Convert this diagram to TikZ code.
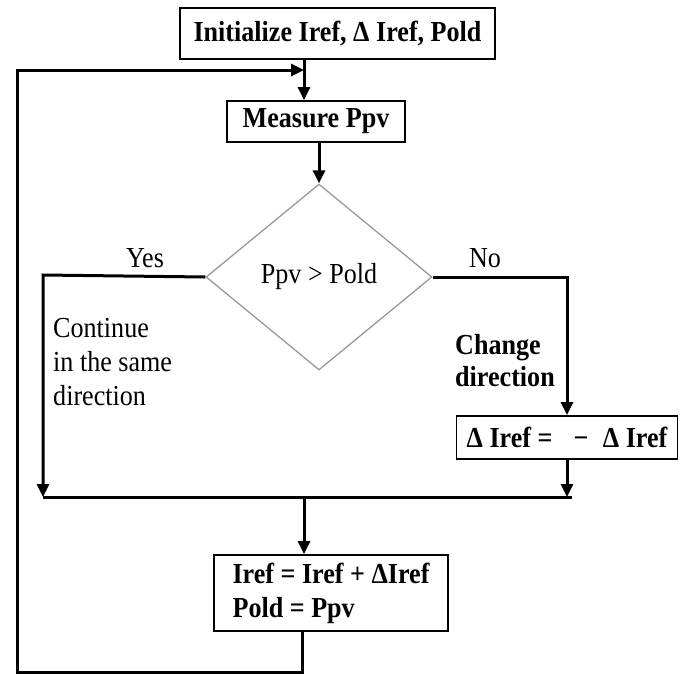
\documentclass[tikz,border=0pt]{standalone}
\usepackage{fontspec}
\setmainfont{Liberation Serif}[FakeStretch=0.9]
\usetikzlibrary{shapes.geometric,arrows.meta,calc}

\begin{document}
\begin{tikzpicture}[x=1pt, y=-1pt,
    every node/.style={font=\fontsize{29}{34}\selectfont, inner sep=0pt},
    procbox/.style={draw, line width=1.8pt, font=\fontsize{29}{34}\selectfont\bfseries},
    decision/.style={draw=gray!80, line width=1.3pt, diamond, minimum width=226pt, minimum height=186pt},
    flow/.style={line width=3pt},
    flowarrow/.style={flow, -{Triangle[length=13pt,width=12pt]}}]
    \useasboundingbox (0,0) rectangle (683,673);

    % boxes and decision
    \node[procbox, minimum width=315pt, minimum height=51pt] (init) at (337.5,33.5)
        {Initialize Iref, Δ Iref, Pold};
    \node[procbox, minimum width=178pt, minimum height=41pt] (measure) at (316,121.5)
        {Measure Ppv};
    \node[decision] (cmp) at (319,277) {Ppv > Pold};
    \node[procbox, minimum width=221pt, minimum height=43pt] (flip) at (567,437.5)
        {Δ Iref = \enspace−\enspace Δ Iref};
    \node[procbox, minimum width=234pt, minimum height=76pt, align=left] (update) at (331,593)
        {Iref = Iref + ΔIref\\Pold = Ppv};

    % labels
    \node (yes) at (145,258) {Yes};
    \node (no) at (485,258) {No};
    \node[anchor=west, align=left] (same) at (53,362) {Continue\\in the same\\direction};
    \node[anchor=west, align=left, font=\fontsize{29}{32}\selectfont\bfseries] (chg) at (455,361)
        {Change\\direction};

    % corner points of the connectors
    \coordinate (join) at (304,70);
    \coordinate (yesend) at (43,275);
    \coordinate (noend) at (567,277);
    \coordinate (mergeL) at (43,497);
    \coordinate (mergeR) at (572,497);
    \coordinate (mergeM) at (304,497);
    \coordinate (loopB) at (302,672);
    \coordinate (loopL) at (17,672);
    \coordinate (loopT) at (17,70);

    \draw[flowarrow] (init.south -| join) -- (measure.north -| join);
    \draw[flowarrow] (measure.south -| cmp.north) -- (cmp.north);
    \draw[flowarrow] (cmp.west) -- (yesend) -- (mergeL);
    \draw[flowarrow] (cmp.east) -- (noend) -- (flip.north);
    \draw[flowarrow] (flip.south) -- (flip.south |- mergeM);
    \draw[flow] (mergeL) -- (mergeR);
    \draw[flowarrow] (mergeM) -- (update.north -| mergeM);
    \draw[flowarrow] (update.south -| loopB) -- (loopB) -- (loopL) -- (loopT) -- (join);
\end{tikzpicture}
\end{document}
